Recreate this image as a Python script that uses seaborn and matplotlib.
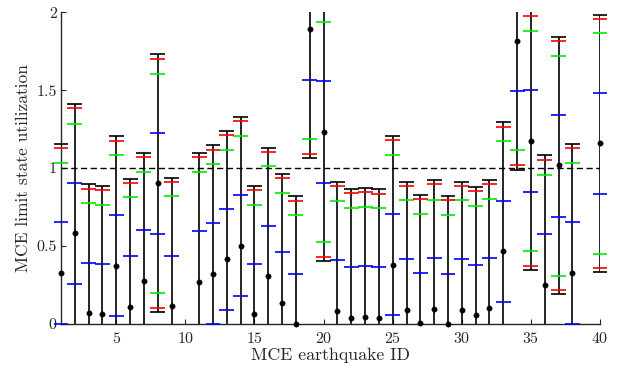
import numpy as np
import pandas as pd
import matplotlib
matplotlib.use("Agg")
import matplotlib.pyplot as plt
from matplotlib.ticker import FuncFormatter
import seaborn as sns

nan = np.nan

# MCE earthquake IDs (10 and 39 have no result)
eq_id = np.arange(1, 41)

# mean utilization (black dots)
mean_util = [0.327, 0.582, 0.068, 0.062, 0.375, 0.109, 0.274, 0.903, 0.116, nan,
             0.272, 0.323, 0.415, 0.503, 0.064, 0.308, 0.137, 0.000, 1.892, 1.231,
             0.086, 0.039, 0.045, 0.039, 0.381, 0.090, 0.006, 0.096, 0.000, 0.090,
             0.056, 0.103, 0.469, 1.815, 1.175, 0.250, 1.017, 0.327, nan, 1.158]

# black whiskers (outermost band); nan = outside the plotted range
black_hi = [1.156, 1.408, 0.897, 0.888, 1.203, 0.933, 1.098, 1.729, 0.937, nan,
            1.096, 1.147, 1.239, 1.327, 0.888, 1.132, 0.965, 0.818, nan, nan,
            0.910, 0.865, 0.871, 0.865, 1.207, 0.914, 0.830, 0.922, 0.822, 0.914,
            0.877, 0.925, 1.293, nan, nan, 1.081, 1.841, 1.153, nan, 1.984]
black_lo = [nan, nan, nan, nan, nan, nan, nan, 0.075, nan, nan,
            nan, nan, nan, nan, nan, nan, nan, nan, 1.066, 0.404,
            nan, nan, nan, nan, nan, nan, nan, nan, nan, nan,
            nan, nan, nan, 0.989, 0.347, nan, 0.190, nan, nan, 0.332]

# red band
red_hi = [1.126, 1.383, 0.867, 0.858, 1.175, 0.905, 1.072, 1.699, 0.910, nan,
          1.072, 1.119, 1.213, 1.301, 0.860, 1.104, 0.935, 0.792, nan, nan,
          0.882, 0.839, 0.845, 0.837, 1.179, 0.888, 0.805, 0.895, 0.794, 0.888,
          0.850, 0.899, 1.265, nan, 1.973, 1.051, 1.815, 1.128, nan, 1.956]
red_lo = [nan, nan, nan, nan, nan, nan, nan, 0.105, nan, nan,
          nan, nan, nan, nan, nan, nan, nan, nan, 1.091, 0.432,
          nan, nan, nan, nan, nan, nan, nan, nan, nan, nan,
          nan, nan, nan, 1.017, 0.375, nan, 0.216, nan, nan, 0.362]

# green band
green_hi = [1.032, 1.286, 0.775, 0.766, 1.081, 0.813, 0.978, 1.605, 0.818, nan,
            0.976, 1.027, 1.117, 1.207, 0.766, 1.012, 0.841, 0.698, nan, 1.935,
            0.790, 0.743, 0.749, 0.743, 1.085, 0.794, 0.708, 0.798, 0.700, 0.794,
            0.758, 0.805, 1.171, nan, 1.877, 0.957, 1.721, 1.032, nan, 1.864]
green_lo = [nan, nan, nan, nan, nan, nan, nan, 0.197, nan, nan,
            nan, nan, nan, nan, nan, nan, nan, nan, 1.188, 0.524,
            nan, nan, nan, nan, nan, nan, nan, nan, nan, nan,
            nan, nan, nan, 1.113, 0.471, nan, 0.310, nan, nan, 0.452]

# blue band (innermost)
blue_hi = [0.653, 0.907, 0.394, 0.387, 0.700, 0.434, 0.601, 1.226, 0.439, nan,
           0.599, 0.648, 0.738, 0.828, 0.387, 0.631, 0.460, 0.319, nan, 1.556,
           0.411, 0.364, 0.370, 0.364, 0.704, 0.415, 0.330, 0.422, 0.323, 0.415,
           0.379, 0.426, 0.792, nan, 1.500, 0.576, 1.342, 0.655, nan, 1.483]
blue_lo = [0.000, 0.257, nan, nan, 0.051, nan, nan, 0.576, nan, nan,
           nan, 0.000, 0.090, 0.180, nan, nan, nan, nan, 1.567, 0.905,
           nan, nan, nan, nan, 0.058, nan, nan, nan, nan, nan,
           nan, nan, 0.141, 1.492, 0.848, nan, 0.689, 0.000, nan, 0.833]

y_min, y_max = 0, 2
cap_half = 0.54

sns.set_theme(style="ticks")
plt.rcParams["font.family"] = ["cmr10", "DejaVu Serif"]
plt.rcParams["mathtext.fontset"] = "cm"
plt.rcParams["axes.formatter.use_mathtext"] = True

df = pd.DataFrame({
    "id": eq_id, "mean": mean_util,
    "black_hi": black_hi, "black_lo": black_lo,
    "red_hi": red_hi, "red_lo": red_lo,
    "green_hi": green_hi, "green_lo": green_lo,
    "blue_hi": blue_hi, "blue_lo": blue_lo,
})
df = df.dropna(subset=["mean"])

fig = plt.figure(figsize=(6.22, 3.72), dpi=100)
ax = fig.add_axes([61 / 622, 48 / 372, 539 / 622, 311.8 / 372])

# dashed limit at 1
ax.axhline(1, color="black", lw=1.0, ls=(0, (4.5, 2.5)), zorder=1)

# whisker lines, cut at the axis limits
line_lo = df["black_lo"].fillna(y_min)
line_hi = df["black_hi"].fillna(y_max)
ax.vlines(df["id"], line_lo, line_hi, color="black", lw=1.2, zorder=2)

# horizontal ticks for each band
bands = [("blue", "#0000ff"), ("green", "#00ee00"), ("red", "#ff0000"), ("black", "black")]
for name, col in bands:
    for side in ("hi", "lo"):
        sub = df.dropna(subset=[f"{name}_{side}"])
        ax.hlines(sub[f"{name}_{side}"], sub["id"] - cap_half, sub["id"] + cap_half,
                  color=col, lw=1.2, zorder=3, clip_on=False)

sns.scatterplot(data=df, x="id", y="mean", color="black", s=15,
                edgecolor="black", linewidth=0.3, zorder=4, clip_on=False, ax=ax)

ax.set_xlim(1, 40)
ax.set_ylim(y_min, y_max)
ax.set_xticks([5, 10, 15, 20, 25, 30, 35, 40])
ax.set_yticks([0, 0.5, 1, 1.5, 2])
ax.yaxis.set_major_formatter(FuncFormatter(lambda v, p: f"{v:g}"))
ax.tick_params(direction="in", length=3.6, width=0.8, labelsize=11.5, colors="#262626")
ax.tick_params(axis="x", pad=5)
ax.tick_params(axis="y", pad=3)
sns.despine(ax=ax)
for sp in ("left", "bottom"):
    ax.spines[sp].set_linewidth(1.0)
    ax.spines[sp].set_color("#262626")

ax.set_xlabel("MCE earthquake ID", fontsize=12.8, labelpad=1, color="#262626")
ax.set_ylabel("MCE limit state utilization", fontsize=12.6, labelpad=4, color="#262626")

fig.savefig("out.png", dpi=100)
